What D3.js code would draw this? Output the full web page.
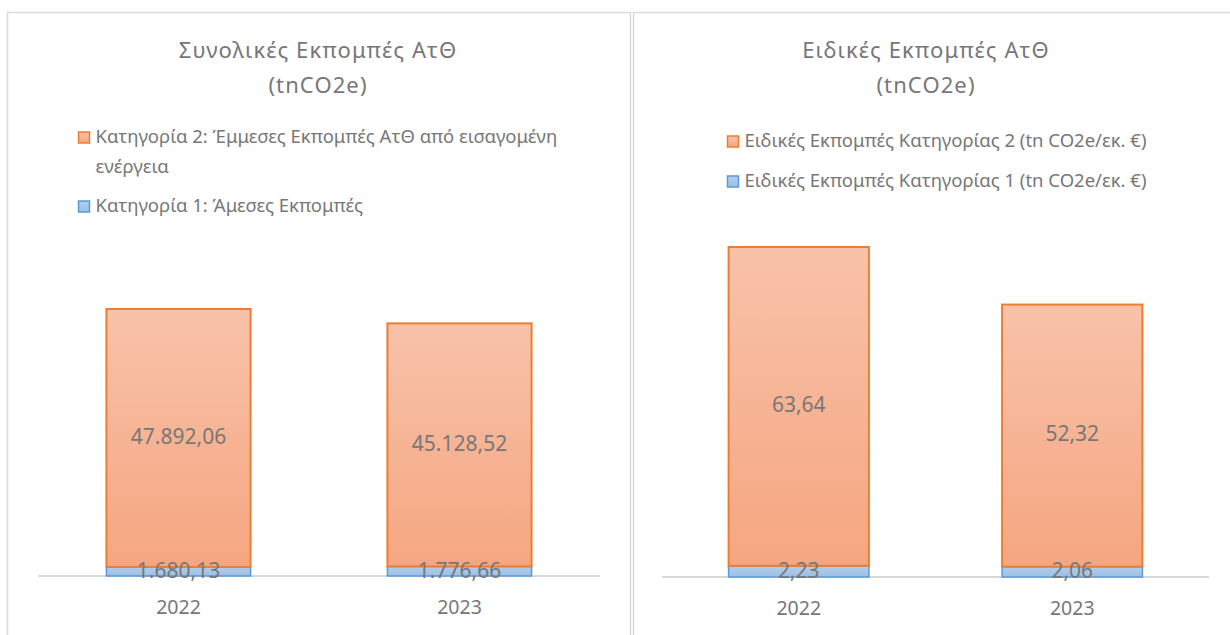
<!DOCTYPE html>
<html><head><meta charset="utf-8">
<script src="https://cdn.jsdelivr.net/npm/d3@7"></script>
<style>body{margin:0;background:#fff}svg{display:block;font-family:"Noto Sans",sans-serif}</style>
</head><body>
<svg id="c" width="1230" height="635"></svg>
<script>
const categories = ["2022", "2023"];
const totalCat1 = [1680.13, 1776.66];
const totalCat2 = [47892.06, 45128.52];
const specCat1 = [2.23, 2.06];
const specCat2 = [63.64, 52.32];
const titles = [["Συνολικές Εκπομπές ΑτΘ", "(tnCO2e)"], ["Ειδικές Εκπομπές ΑτΘ", "(tnCO2e)"]];
const legendLeft = [["Κατηγορία 2: Έμμεσες Εκπομπές ΑτΘ από εισαγομένη", "ενέργεια"], ["Κατηγορία 1: Άμεσες Εκπομπές"]];
const legendRight = [["Ειδικές Εκπομπές Κατηγορίας 2 (tn CO2e/εκ. €)"], ["Ειδικές Εκπομπές Κατηγορίας 1 (tn CO2e/εκ. €)"]];
const yMaxLeft = 60000, yMaxRight = 70000;

const loc = d3.formatLocale({decimal: ",", thousands: ".", grouping: [3], currency: ["", "€"]});
const fmt = loc.format(",.2f");
const svg = d3.select("#c");
const defs = svg.append("defs");
function grad(id, top, bottom) {
  const g = defs.append("linearGradient").attr("id", id).attr("x1", 0).attr("y1", 0).attr("x2", 0).attr("y2", 1);
  g.append("stop").attr("offset", "0%").attr("stop-color", top);
  g.append("stop").attr("offset", "100%").attr("stop-color", bottom);
}
grad("gO", "#F8C2AA", "#F5A680");
grad("gB", "#B2CDEC", "#9DBFE6");

const TXT = "#777777";

function panel(cfg) {
  const g = svg.append("g");
  g.append("rect").attr("x", cfg.bx0).attr("y", 12.5).attr("width", cfg.bx1 - cfg.bx0).attr("height", 700)
    .attr("fill", "#fff").attr("stroke", "#d9d9d9").attr("stroke-width", 1.5);
  cfg.title.forEach((t, i) => {
    g.append("text").attr("x", cfg.tcx).attr("y", 58 + i * 35).attr("text-anchor", "middle").attr("fill", TXT)
      .attr("font-size", 22).attr("letter-spacing", 1.1).text(t);
  });
  const colors = [["url(#gO)", "#ED7D31"], ["url(#gB)", "#5B9BD5"]];
  cfg.legend.forEach((lines, i) => {
    const y = cfg.legY[i];
    g.append("rect").attr("x", cfg.legX).attr("y", y - 6).attr("width", 11).attr("height", 11)
      .attr("fill", colors[i][0]).attr("stroke", colors[i][1]).attr("stroke-width", 1.5);
    lines.forEach((ln, j) => {
      g.append("text").attr("x", cfg.legX + 17).attr("y", y + j * 30).attr("dominant-baseline", "middle")
        .attr("fill", TXT).attr("font-size", 18.5).text(ln);
    });
  });
  const x = d3.scaleBand().domain(categories).range([cfg.ax0, cfg.ax1]).paddingInner(0.487).paddingOuter(0.2435);
  const y = d3.scaleLinear().domain([0, cfg.yMax]).range([cfg.ay, cfg.ay - cfg.ph]);
  const data = categories.map((c, i) => ({c, a: cfg.s1[i], b: cfg.s2[i]}));
  g.append("line").attr("x1", cfg.ax0).attr("x2", cfg.ax1).attr("y1", cfg.ay).attr("y2", cfg.ay)
    .attr("stroke", "#d9d9d9").attr("stroke-width", 2);
  const bars = g.selectAll(".bar").data(data).join("g");
  bars.append("rect").attr("x", d => x(d.c)).attr("width", x.bandwidth())
    .attr("y", d => y(d.a)).attr("height", d => y(0) - y(d.a))
    .attr("fill", "url(#gB)").attr("stroke", "#5B9BD5").attr("stroke-width", 1.5);
  bars.append("rect").attr("x", d => x(d.c)).attr("width", x.bandwidth())
    .attr("y", d => y(d.a + d.b)).attr("height", d => y(d.a) - y(d.a + d.b))
    .attr("fill", "url(#gO)").attr("stroke", "#ED7D31").attr("stroke-width", 2);
  bars.append("text").attr("x", d => x(d.c) + x.bandwidth() / 2).attr("y", d => (y(d.a) + y(d.a + d.b)) / 2)
    .attr("text-anchor", "middle").attr("dominant-baseline", "middle").attr("fill", TXT)
    .attr("font-size", 21).text(d => fmt(d.b));
  bars.append("text").attr("x", d => x(d.c) + x.bandwidth() / 2).attr("y", d => (y(0) + y(d.a)) / 2 + 1)
    .attr("text-anchor", "middle").attr("dominant-baseline", "middle").attr("fill", TXT)
    .attr("font-size", 21).text(d => fmt(d.a));
  const ax = g.append("g").attr("transform", `translate(0,${cfg.ay})`).call(d3.axisBottom(x).tickSize(0).tickPadding(24));
  ax.select(".domain").remove();
  ax.selectAll("text").attr("fill", TXT).attr("font-size", 19.5).attr("font-family", "Noto Sans");
}

panel({bx0: 7.5, bx1: 630.5, tcx: 318, title: titles[0], legend: legendLeft, legX: 78.5, legY: [138, 207],
  ax0: 38, ax1: 600, ay: 576, yMax: yMaxLeft, ph: 60000 * 267 / 49572.19, s1: totalCat1, s2: totalCat2});
panel({bx0: 633.5, bx1: 1300, tcx: 926, title: titles[1], legend: legendRight, legX: 727.5, legY: [142, 182],
  ax0: 662, ax1: 1209, ay: 577, yMax: yMaxRight, ph: 70000 * 330 / 65.87, s1: specCat1, s2: specCat2});
</script>
</body></html>
